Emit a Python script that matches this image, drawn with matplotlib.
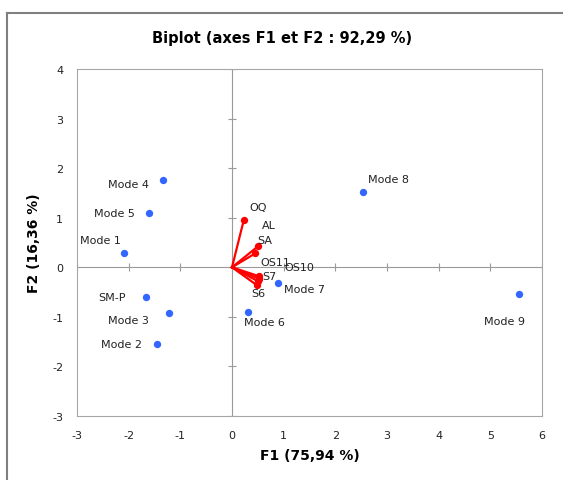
import numpy as np
import matplotlib.pyplot as plt
from matplotlib.lines import Line2D

plt.rcParams['axes.unicode_minus'] = False

# observations (modes)
obs_names = ['Mode 1', 'Mode 2', 'Mode 3', 'Mode 4', 'Mode 5', 'Mode 6',
             'Mode 7', 'Mode 8', 'Mode 9', 'SM-P']
obs_f1 = [-2.09, -1.45, -1.22, -1.34, -1.61, 0.31, 0.89, 2.54, 5.55, -1.66]
obs_f2 = [0.28, -1.55, -0.93, 1.77, 1.09, -0.91, -0.32, 1.51, -0.54, -0.60]

# variables (vectors)
var_names = ['OQ', 'AL', 'SA', 'OS11', 'OS10', 'S7', 'S6']
var_f1 = [0.23, 0.50, 0.45, 0.52, 0.52, 0.50, 0.48]
var_f2 = [0.96, 0.42, 0.28, -0.18, -0.23, -0.28, -0.36]

# label offsets in pixels (dx, dy)
obs_off = [(-24, 13), (-36, 0), (-41, -7), (-34, -4), (-34, 0), (16, -10),
           (27, -6), (25, 13), (-14, -27), (-34, 0)]
var_off = [(14, 13), (11, 21), (10, 13), (16, 14), (40, 12), (12, 5), (2, -8)]

fig = plt.figure(figsize=(5.63, 4.81), dpi=100)
ax = fig.add_axes([77 / 563, 1 - 417 / 481, 465 / 563, 347 / 481])

gray = '#9a9a9a'
ax.axhline(0, color=gray, lw=0.8, zorder=1)
ax.axvline(0, color=gray, lw=0.8, zorder=1)

# small cross ticks on the zero lines
xt = np.arange(-3, 7)
yt = np.arange(-3, 5)
ax.plot(xt, np.zeros_like(xt), ls='none', marker='|', ms=6, mew=0.8, color=gray, zorder=1)
ax.plot(np.zeros_like(yt), yt, ls='none', marker='_', ms=6, mew=0.8, color=gray, zorder=1)

for x, y in zip(var_f1, var_f2):
    ax.plot([0, x], [0, y], color='#ff0000', lw=1.6, zorder=2)
ax.scatter(var_f1, var_f2, s=28, color='#ff0000', zorder=3, linewidths=0)
ax.scatter(obs_f1, obs_f2, s=28, color='#3366ff', zorder=3, linewidths=0)

for name, x, y, (dx, dy) in zip(obs_names, obs_f1, obs_f2, obs_off):
    ax.annotate(name, (x, y), xytext=(dx * 0.72, dy * 0.72), textcoords='offset points',
                ha='center', va='center', fontsize=8, color='#222222')
for name, x, y, (dx, dy) in zip(var_names, var_f1, var_f2, var_off):
    ax.annotate(name, (x, y), xytext=(dx * 0.72, dy * 0.72), textcoords='offset points',
                ha='center', va='center', fontsize=8, color='#222222')

ax.set_xlim(-3, 6)
ax.set_ylim(-3, 4)
ax.set_xticks(xt)
ax.set_yticks(yt)
ax.tick_params(length=0, labelsize=8, colors='#222222', pad=10)
for s in ax.spines.values():
    s.set_color('#a6a6a6')
    s.set_linewidth(0.8)

ax.set_xlabel('F1 (75,94 %)', fontsize=10, fontweight='bold', labelpad=6)
ax.set_ylabel('F2 (16,36 %)', fontsize=10, fontweight='bold', labelpad=8)
fig.text(282 / 563, 1 - 39 / 481, 'Biplot (axes F1 et F2 : 92,29 %)', ha='center', va='center',
         fontsize=10.5, fontweight='bold')

# outer frame (left and top edges visible)
fig.add_artist(Line2D([7 / 563, 7 / 563], [0, 1 - 14 / 481], color='#808080', lw=1.5))
fig.add_artist(Line2D([7 / 563, 1], [1 - 14 / 481, 1 - 14 / 481], color='#808080', lw=1.5))

fig.savefig('out.png', dpi=100)
